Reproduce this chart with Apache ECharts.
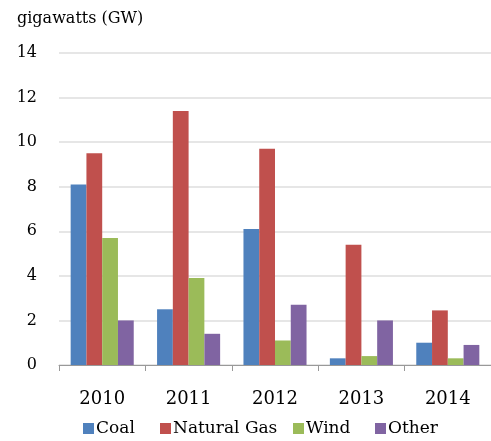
<!DOCTYPE html>
<html>
<head>
<meta charset="utf-8">
<script src="https://cdn.jsdelivr.net/npm/echarts@6/dist/echarts.min.js"></script>
<style>html,body{margin:0;padding:0;background:#fff;}#c{width:491px;height:441px;}</style>
</head>
<body>
<div id="c"></div>
<script>
const categories = ['2010', '2011', '2012', '2013', '2014'];
const seriesNames = ['Coal', 'Natural Gas', 'Wind', 'Other'];
const coal = [8.1, 2.5, 6.1, 0.3, 1.0];
const naturalGas = [9.5, 11.4, 9.7, 5.4, 2.45];
const wind = [5.7, 3.9, 1.1, 0.4, 0.3];
const other = [2.0, 1.4, 2.7, 2.0, 0.9];
const yTicks = [0, 2, 4, 6, 8, 10, 12, 14];

const font = 'DejaVu Serif';
const colors = ['#4F81BD', '#C0504D', '#9BBB59', '#8064A2'];
const legendLeft = [83, 160, 293, 375];
const chart = echarts.init(document.getElementById('c'));
function bar(name, data, color) {
  return { name, type: 'bar', data, barGap: '0%', barCategoryGap: '27%',
    itemStyle: { color: color }, emphasis: { disabled: true } };
}
chart.setOption({
  animation: false,
  title: { text: 'gigawatts (GW)', left: 12, top: 6,
    textStyle: { fontFamily: font, fontSize: 16, fontWeight: 'normal', color: '#000' } },
  grid: { left: 59, top: 53, bottom: 76, width: 441, containLabel: false },
  legend: seriesNames.map((n, i) => ({
    left: legendLeft[i], top: 420, padding: 0, itemWidth: 11, itemHeight: 11, icon: 'rect',
    textStyle: { fontFamily: font, fontSize: 17, color: '#000', padding: [0, 0, 0, -3] },
    data: [n] })),
  xAxis: { type: 'category', data: categories,
    axisLine: { lineStyle: { color: '#999', width: 1 } },
    axisTick: { show: true, length: 6, lineStyle: { color: '#999' } },
    axisLabel: { fontFamily: font, fontSize: 18, color: '#000', margin: 25 } },
  yAxis: { type: 'value', min: 0, max: 14, interval: 2,
    axisLine: { show: false }, axisTick: { show: false },
    splitLine: { lineStyle: { color: '#dedede', width: 1.5 } },
    axisLabel: { fontFamily: font, fontSize: 16, color: '#000', margin: 22,
      formatter: v => yTicks.includes(v) ? String(v) : '' } },
  series: [
    bar(seriesNames[0], coal, colors[0]),
    bar(seriesNames[1], naturalGas, colors[1]),
    bar(seriesNames[2], wind, colors[2]),
    bar(seriesNames[3], other, colors[3])
  ]
});
</script>
</body>
</html>
